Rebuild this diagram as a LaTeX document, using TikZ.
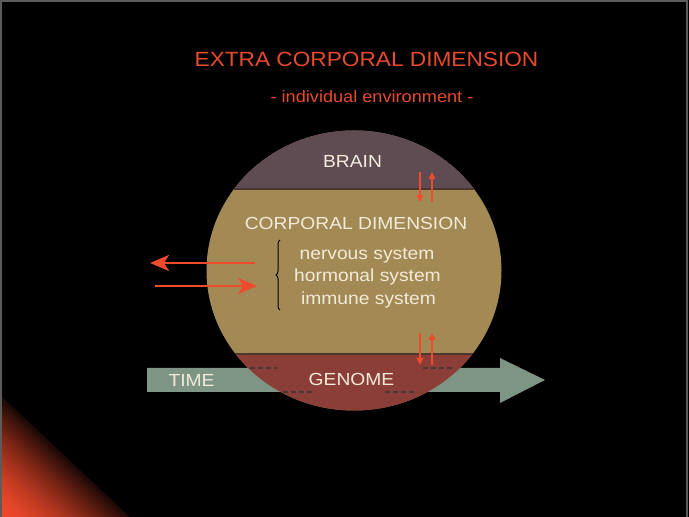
\documentclass[tikz,border=0pt]{standalone}
\usepackage{fontspec}
\setmainfont{Liberation Sans}[FakeStretch=1.1]
\usetikzlibrary{arrows.meta,decorations.pathreplacing}
\definecolor{glow}{HTML}{F24A2A}
\definecolor{titlecol}{HTML}{E84A2E}
\definecolor{arrred}{HTML}{EE4B2C}
\definecolor{braincol}{HTML}{5F4B52}
\definecolor{corpcol}{HTML}{A38A55}
\definecolor{genomecol}{HTML}{8B3E37}
\definecolor{timecol}{HTML}{7E9585}
\definecolor{bandline}{HTML}{4A3830}
\definecolor{cream}{HTML}{F2EAD8}
\definecolor{framecol}{HTML}{5C5C5C}
\tikzset{
  txt/.style={inner sep=0pt, anchor=base, font=\fontsize{17.5}{20}\selectfont},
  ttl/.style={inner sep=0pt, anchor=base, text=titlecol},
  bigarrow/.style={draw=arrred, line width=2.6pt, -{Stealth[length=19pt,width=16pt,inset=5pt]}},
  smallarrow/.style={draw=arrred, line width=2.6pt, -{Triangle[length=7pt,width=6.5pt]}},
  edgedash/.style={draw=bandline, line width=1.2pt, dash pattern=on 5pt off 3pt},
}
\begin{document}
\begin{tikzpicture}[x=1pt,y=1pt]
\fill[black] (0,0) rectangle (689,517);
\useasboundingbox (0,0) rectangle (689,517);
% corner glow
\foreach \i in {40,39,...,1} {
  \pgfmathsetmacro\t{\i/40}
  \pgfmathsetmacro\p{12+88*(1-\t^1.6)}
  \fill[glow!\p!black] (0,0) -- (0,122*\t) -- (130*\t,0) -- cycle;
}
% frame
\draw[framecol, line width=2pt] (1,-2) -- (1,515.5) -- (686.5,515.5) -- (686.5,-2);
% time arrow
\fill[timecol] (147,149) -- (500,149) -- (500,159) -- (545,137) -- (500,114) -- (500,125) -- (147,125) -- cycle;
% sphere
\begin{scope}
  \clip (354,246.5) ellipse [x radius=147.5, y radius=140];
  \fill[corpcol] (200,100) rectangle (510,400);
  \fill[braincol] (200,328) rectangle (510,400);
  \fill[genomecol] (200,100) rectangle (510,163);
  \draw[bandline, line width=1.5pt] (200,328) -- (510,328);
  \draw[bandline, line width=1.5pt] (200,163) -- (510,163);
\end{scope}
% dashed edges of time arrow inside sphere
\coordinate (d1a) at (250,149); \coordinate (d1b) at (277,149);
\coordinate (d2a) at (423,149); \coordinate (d2b) at (453,149);
\coordinate (d3a) at (283,125); \coordinate (d3b) at (315,125);
\coordinate (d4a) at (385,125); \coordinate (d4b) at (417,125);
\draw[edgedash] (d1a) -- (d1b);
\draw[edgedash] (d2a) -- (d2b);
\draw[edgedash] (d3a) -- (d3b);
\draw[edgedash] (d4a) -- (d4b);
% texts
\node[ttl, font=\fontsize{20.6}{24}\selectfont] (title) at (366.5,450) {EXTRA CORPORAL DIMENSION};
\node[ttl, font=\fontsize{16.5}{20}\selectfont] (sub) at (372,414) {- individual environment -};
\node[txt, text=cream!90!white] (brain) at (352.5,349) {BRAIN};
\node[txt, text=cream] (corp) at (356,287) {CORPORAL DIMENSION};
\node[txt, text=cream] (nerv) at (367,257) {nervous system};
\node[txt, text=cream] (horm) at (367.5,235) {hormonal system};
\node[txt, text=cream] (immu) at (368.5,212) {immune system};
\node[txt, text=cream] (time) at (191.5,130) {TIME};
\node[txt, text=cream] (genome) at (351.5,131) {GENOME};
% brace
\coordinate (brb) at (280,207);
\coordinate (brt) at (280,277);
\draw[black, line width=1pt, decorate, decoration={brace, amplitude=4pt}] (brb) -- (brt);
% red vertical arrows
\coordinate (ta1) at (420,345); \coordinate (ta2) at (420,315);
\coordinate (tb1) at (432,315); \coordinate (tb2) at (432,345);
\coordinate (ba1) at (420,184); \coordinate (ba2) at (420,152);
\coordinate (bb1) at (432,152); \coordinate (bb2) at (432,184);
\draw[smallarrow] (ta1) -- (ta2);
\draw[smallarrow] (tb1) -- (tb2);
\draw[smallarrow] (ba1) -- (ba2);
\draw[smallarrow] (bb1) -- (bb2);
% left arrows
\coordinate (la1) at (255,254); \coordinate (la2) at (150,254);
\coordinate (lb1) at (155,231); \coordinate (lb2) at (257,231);
\draw[bigarrow] (la1) -- (la2);
\draw[bigarrow] (lb1) -- (lb2);
\end{tikzpicture}
\end{document}
